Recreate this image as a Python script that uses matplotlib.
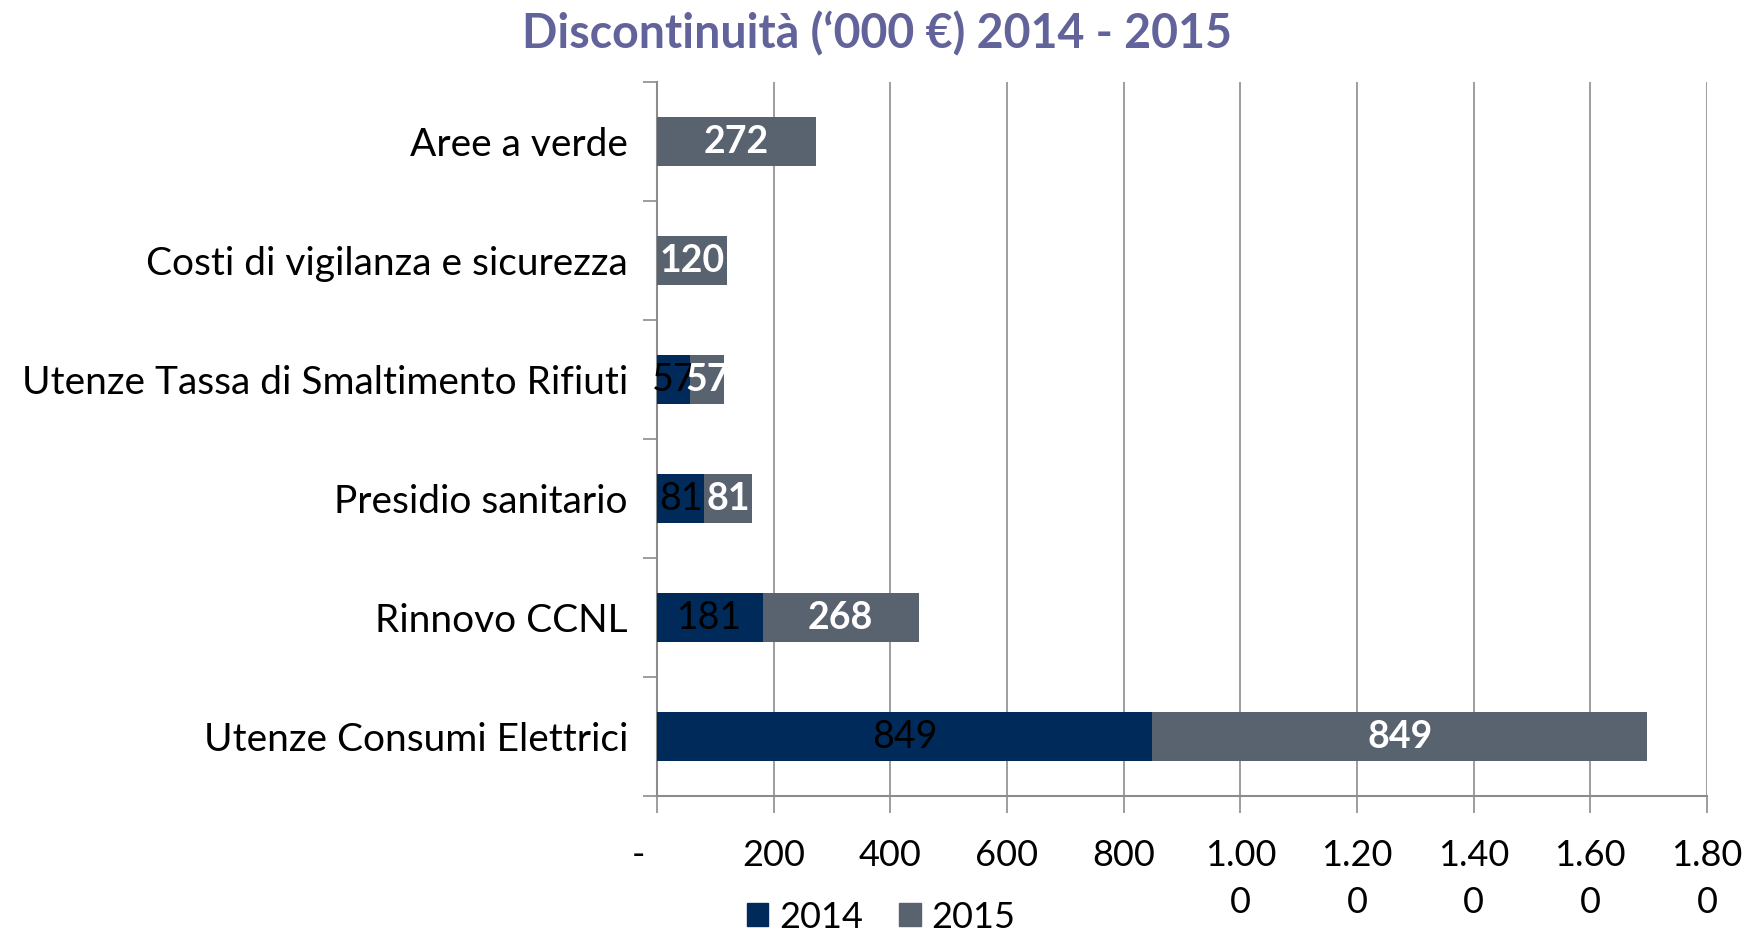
import matplotlib as mpl
import matplotlib.pyplot as plt
import matplotlib.transforms as mtransforms
from matplotlib.patches import Patch
import numpy as np

mpl.use('Agg')

plt.rcParams['font.family'] = ['Lato', 'DejaVu Sans']

# data (bottom to top)
categories = ['Utenze Consumi Elettrici', 'Rinnovo CCNL', 'Presidio sanitario',
              'Utenze Tassa di Smaltimento Rifiuti',
              'Costi di vigilanza e sicurezza', 'Aree a verde']
values_2014 = [849, 181, 81, 57, 0, 0]
values_2015 = [849, 268, 81, 57, 120, 272]
series_names = ['2014', '2015']
x_ticks = [0, 200, 400, 600, 800, 1000, 1200, 1400, 1600, 1800]
x_ticklabels = ['-', '200', '400', '600', '800',
                '1.00\n0', '1.20\n0', '1.40\n0', '1.60\n0', '1.80\n0']

color_2014 = '#002a5a'
color_2015 = '#59636f'
grid_color = '#8c8c8c'

fig = plt.figure(figsize=(17.55, 9.32), dpi=100)
ax = fig.add_axes([0.3744, 0.1459, 0.5982, 0.7661])

y = np.arange(len(categories))
bar_h = 0.41
ax.barh(y, values_2014, height=bar_h, color=color_2014, zorder=3)
ax.barh(y, values_2015, left=values_2014, height=bar_h, color=color_2015,
        zorder=3)

# data labels
for i in range(len(categories)):
    if values_2014[i] > 0:
        ax.text(values_2014[i] / 2, y[i], str(values_2014[i]), ha='center',
                va='center', fontsize=27, color='black', zorder=4)
    if values_2015[i] > 0:
        ax.text(values_2014[i] + values_2015[i] / 2, y[i], str(values_2015[i]),
                ha='center', va='center', fontsize=27, color='white',
                fontweight='bold', zorder=4)

ax.set_xlim(0, 1800)
ax.set_ylim(-0.5, len(categories) - 0.5)

ax.set_xticks(x_ticks)
ax.set_xticklabels(x_ticklabels, fontsize=26, linespacing=1.5)
ax.tick_params(axis='x', length=12, width=1.2, color=grid_color, pad=19)
ax.xaxis.grid(True, color=grid_color, linewidth=1.2, zorder=0)

# shift the "-" label to the left like the original
lab0 = ax.get_xticklabels()[0]
lab0.set_transform(lab0.get_transform() +
                   mtransforms.ScaledTranslation(-0.19, 0, fig.dpi_scale_trans))

ax.set_yticks(y)
ax.set_yticklabels(categories, fontsize=28)
ax.set_yticks(np.arange(-0.5, len(categories), 1), minor=True)
ax.tick_params(axis='y', which='major', length=0, pad=21)
ax.tick_params(axis='y', which='minor', length=10, width=1.2, color=grid_color)

for side in ['top', 'right']:
    ax.spines[side].set_visible(False)
for side in ['left', 'bottom']:
    ax.spines[side].set_color(grid_color)
    ax.spines[side].set_linewidth(1.5)

fig.suptitle("Discontinuità (\u2018000 \u20ac) 2014 - 2015", x=0.5, y=0.964,
             fontsize=33.5, fontweight='bold', color='#62639a', va='center')

handles = [Patch(color=color_2014), Patch(color=color_2015)]
fig.legend(handles, series_names, loc='center', bbox_to_anchor=(0.502, 0.016),
           ncol=2, frameon=False, fontsize=26, handlelength=0.6,
           handleheight=0.6, handletextpad=0.3, columnspacing=1.0)

fig.savefig('out.png', dpi=100)
